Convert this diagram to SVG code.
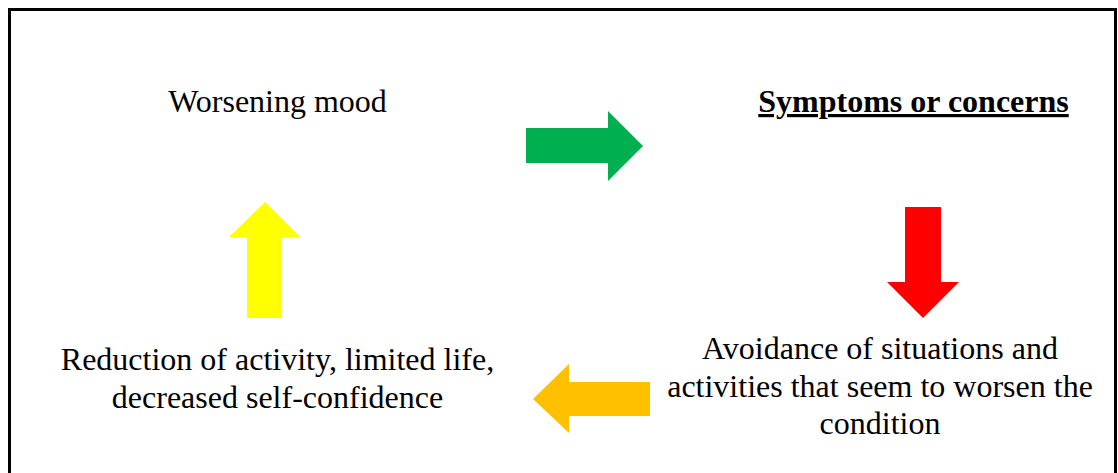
<svg xmlns="http://www.w3.org/2000/svg" width="1118" height="473" viewBox="0 0 1118 473">
<style>
text{font-family:'Liberation Serif','Times New Roman',serif;font-size:32px;fill:#000;text-anchor:middle}
.b{font-weight:bold;text-decoration:underline}
</style>
<rect x="0" y="0" width="1118" height="473" fill="#fff"/>
<rect x="9.5" y="9.5" width="1106" height="480" fill="none" stroke="#000" stroke-width="3"/>
<g id="n1"><text font-family="Liberation Serif, serif" x="277.5" y="112">Worsening mood</text></g>
<g id="n2"><text class="b" font-family="Liberation Serif, serif" x="913.5" y="112">Symptoms or concerns</text></g>
<g id="n3" font-family="Liberation Serif, serif"><text x="880" y="359">Avoidance of situations and</text><text x="880" y="397">activities that seem to worsen the</text><text x="880" y="434">condition</text></g>
<g id="n4" font-family="Liberation Serif, serif"><text x="277.5" y="370">Reduction of activity, limited life,</text><text x="277.5" y="408">decreased self-confidence</text></g>
<g id="connectors">
<polygon fill="#00B050" points="526,128 608,128 608,111 643,146 608,181 608,163 526,163"/>
<polygon fill="#FF0000" points="905,207 941,207 941,282 959,282 923,318 887,282 905,282"/>
<polygon fill="#FFC000" points="650,382 569,382 569,364 533,399 569,433 569,416 650,416"/>
<polygon fill="#FFFF00" points="247,318 282,318 282,237 300,237 265,202 229,237 247,237"/>
</g>
</svg>
